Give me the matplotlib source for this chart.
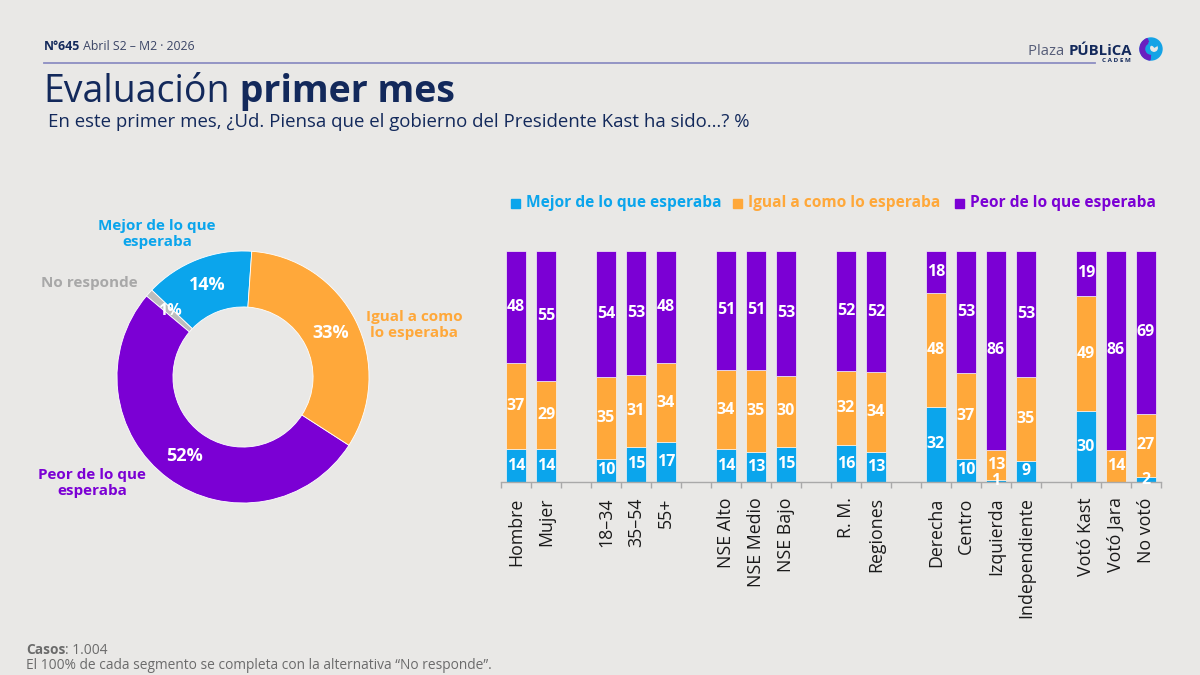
import matplotlib
matplotlib.use("Agg")
import matplotlib.pyplot as plt
from matplotlib.patches import Wedge, Circle, Rectangle
import numpy as np

# ---------------- data ----------------
donut_labels = ["Mejor de lo que\nesperaba", "No responde", "Peor de lo que\nesperaba", "Igual a como\nlo esperaba"]
donut_values = [14, 1, 52, 33]

categories = ["Hombre", "Mujer", "18–34", "35–54", "55+", "NSE Alto", "NSE Medio", "NSE Bajo",
              "R. M.", "Regiones", "Derecha", "Centro", "Izquierda", "Independiente",
              "Votó Kast", "Votó Jara", "No votó"]
group_sizes = [2, 3, 3, 2, 4, 3]
mejor = [14, 14, 10, 15, 17, 14, 13, 15, 16, 13, 32, 10, 1, 9, 30, 0, 2]
igual = [37, 29, 35, 31, 34, 34, 35, 30, 32, 34, 48, 37, 13, 35, 49, 14, 27]
peor = [48, 55, 54, 53, 48, 51, 51, 53, 52, 52, 18, 53, 86, 53, 19, 86, 69]
series_names = ["Mejor de lo que esperaba", "Igual a como lo esperaba", "Peor de lo que esperaba"]

# ---------------- style ----------------
BG = "#E9E8E6"
NAVY = "#13295B"
BLUE = "#0BA5EC"
ORANGE = "#FFA83A"
PURPLE = "#7B00D4"
GRAY = "#BDBDBD"
FONT = "Open Sans"
plt.rcParams['font.family'] = [FONT, 'DejaVu Sans']

fig = plt.figure(figsize=(12, 6.75), dpi=100, facecolor=BG)
W, H = 1200, 675

def fx(x):
    return x / W

def fy(y):
    return 1 - y / H

ov = fig.add_axes([0, 0, 1, 1])
ov.set_xlim(0, W)
ov.set_ylim(H, 0)
ov.axis('off')
ov.patch.set_alpha(0)
renderer = fig.canvas.get_renderer()

def rich(parts, x, y, size, va='baseline'):
    for txt, weight, color in parts:
        t = ov.text(x, y, txt, fontsize=size, fontweight=weight, color=color, va=va, ha='left')
        bb = t.get_window_extent(renderer=renderer)
        x += bb.width
    return x

# ---------------- header ----------------
rich([("N°645", "bold", NAVY), (" Abril S2 – M2 · 2026", "normal", "#3b4566")], 44, 50, 8.8)
ov.plot([44, 1095], [62.5, 62.5], color="#8C8EC2", lw=1.3)
rich([("Evaluación", "normal", NAVY), (" primer mes", "bold", NAVY)], 43, 102, 27)
ov.text(48, 127, "En este primer mes, ¿Ud. Piensa que el gobierno del Presidente Kast ha sido…? %",
        fontsize=13.4, color=NAVY, va='baseline')

# logo
rich([("Plaza ", "normal", "#565d78"), ("PÚBLiCA", "bold", NAVY)], 1028, 55, 10.7)
ov.text(1116, 61, "C A D E M", fontsize=4.5, fontweight='bold', color=NAVY, ha='center', va='center')
ov.add_patch(Circle((1151, 49), 11, color="#14A3E6"))
ov.add_patch(Wedge((1151, 49), 11, 95, 250, width=4.5, color="#6A1FC0"))
ov.add_patch(Circle((1154, 48), 3.2, color=BG))
ov.add_patch(Wedge((1151, 49), 6.5, 250, 330, width=2.5, color="#14A3E6"))

# ---------------- donut ----------------
R = 126.0
box = 134.0
cx, cy = 243, 377
axd = fig.add_axes([fx(cx - box), fy(cy + box), 2 * box / W, 2 * box / H])
wedges, _ = axd.pie(donut_values, colors=[BLUE, GRAY, PURPLE, ORANGE], startangle=86,
                    counterclock=True, radius=1,
                    wedgeprops=dict(width=0.444, edgecolor='white', linewidth=0.6))
axd.set_xlim(-box / R, box / R)
axd.set_ylim(-box / R, box / R)
axd.set_aspect('equal')
axd.axis('off')
for w, v in zip(wedges, donut_values):
    th = np.deg2rad((w.theta1 + w.theta2) / 2)
    axd.text(0.78 * np.cos(th), 0.78 * np.sin(th), f"{v}%", ha='center', va='center',
             color='white', fontweight='bold', fontsize=13 if v > 1 else 11.5)

lab_cols = [BLUE, "#A8A8A8", PURPLE, ORANGE]
lab_pos = [(157, 234), (89, 283), (92, 483), (414, 325)]
for t, c, (x, y) in zip(donut_labels, lab_cols, lab_pos):
    ov.text(x, y, t, ha='center', va='center', color=c, fontweight='bold', fontsize=11,
            linespacing=1.15)

# ---------------- bars ----------------
positions = []
p = 0
for g in group_sizes:
    for i in range(g):
        positions.append(p)
        p += 1
    p += 1
positions = np.array(positions)

vals = np.array([mejor, igual, peor], dtype=float)
shares = vals / vals.sum(axis=0) * 100

axb = fig.add_axes([fx(501), fy(482), 660 / W, 231 / H])
axb.set_facecolor('none')
bottom = np.zeros(len(categories))
for k, col in enumerate([BLUE, ORANGE, PURPLE]):
    axb.bar(positions, shares[k], width=0.667, bottom=bottom, color=col,
            edgecolor='#F4F4F4', linewidth=0.5, label=series_names[k])
    for x, b, h, v in zip(positions, bottom, shares[k], vals[k]):
        if v > 0:
            axb.text(x, b + h / 2, f"{int(v)}", ha='center', va='center', color='white',
                     fontweight='bold', fontsize=11.5)
    bottom += shares[k]

axb.set_xlim(-0.5, positions.max() + 0.5)
axb.set_ylim(0, 100)
for s in ['top', 'right', 'left']:
    axb.spines[s].set_visible(False)
axb.spines['bottom'].set_color('#A9A9A9')
axb.spines['bottom'].set_linewidth(1)
axb.set_yticks([])
axb.set_xticks(positions)
axb.set_xticklabels(categories, rotation=90, fontsize=12.8, color='#1a1a1a')
axb.tick_params(axis='x', which='major', length=0, pad=11)
axb.set_xticks(np.arange(-0.5, positions.max() + 1.0, 1.0), minor=True)
axb.tick_params(axis='x', which='minor', length=4, color='#A9A9A9', width=1)

# legend
leg_x = [511, 733, 955]
for x, col, name in zip(leg_x, [BLUE, ORANGE, PURPLE], series_names):
    ov.add_patch(Rectangle((x, 198.5), 9, 9, color=col))
    ov.text(x + 15, 203, name, color=col, fontweight='bold', fontsize=11.2, va='center', ha='left')

# ---------------- footer ----------------
rich([("Casos", "bold", "#6b6b6b"), (": 1.004", "normal", "#6b6b6b")], 26, 654, 9.9)
ov.text(26, 669, "El 100% de cada segmento se completa con la alternativa “No responde”.",
        fontsize=9.9, color="#6b6b6b", va='baseline')

fig.savefig("out.png", dpi=100, facecolor=BG)
